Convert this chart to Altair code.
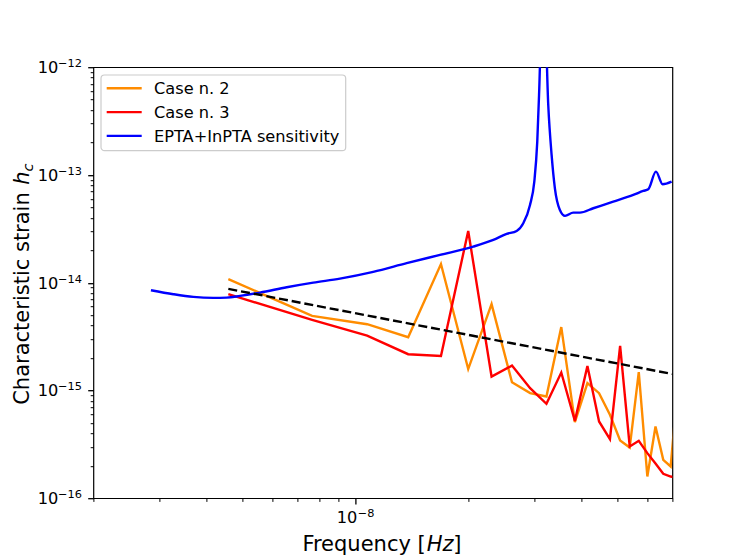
import altair as alt
import pandas as pd

# ---------------- data ----------------
freq_bins = [4.58e-9, 7.66e-9, 1.074e-8, 1.382e-8, 1.690e-8, 1.998e-8, 2.306e-8,
             2.614e-8, 2.922e-8, 3.230e-8, 3.538e-8, 3.846e-8, 4.154e-8, 4.462e-8,
             4.770e-8, 5.078e-8, 5.386e-8, 5.694e-8, 6.002e-8, 6.310e-8, 6.618e-8,
             6.926e-8, 7.234e-8]
case2_hc = [1.08e-14, 4.92e-15, 4.12e-15, 3.12e-15, 1.49e-14, 1.58e-15, 6.32e-15,
            1.19e-15, 9.44e-16, 8.78e-16, 3.87e-15, 5.08e-16, 1.17e-15, 9.44e-16,
            5.94e-16, 3.43e-16, 2.95e-16, 1.48e-15, 1.59e-16, 4.63e-16, 2.27e-16,
            1.97e-16, 1.10e-15]
case3_hc = [7.82e-15, 4.52e-15, 3.23e-15, 2.17e-15, 2.09e-15, 3.02e-14, 1.345e-15,
            1.70e-15, 1.05e-15, 7.51e-16, 1.466e-15, 5.22e-16, 1.69e-15, 5.15e-16,
            3.53e-16, 2.59e-15, 3.02e-16, 3.41e-16, 2.62e-16, 2.10e-16, 1.684e-16,
            1.589e-16, 1.55e-16]

sens_freq = [2.848e-9, 3.267e-9, 3.694e-9, 4.175e-9, 4.535e-9, 4.92e-9, 5.56e-9,
             6.556e-9, 7.717e-9, 9.09e-9, 1.115e-8, 1.369e-8, 1.68e-8, 2.061e-8,
             2.331e-8, 2.53e-8, 2.69e-8, 2.802e-8, 2.92e-8, 2.998e-8, 3.053e-8,
             3.091e-8, 3.167e-8, 3.266e-8, 3.334e-8, 3.402e-8, 3.508e-8, 3.62e-8,
             3.807e-8, 3.967e-8, 4.306e-8, 4.868e-8, 5.505e-8, 5.853e-8, 6.035e-8,
             6.327e-8, 6.592e-8, 6.966e-8]
sens_hc = [8.52e-15, 7.82e-15, 7.38e-15, 7.23e-15, 7.27e-15, 7.54e-15, 8.09e-15,
           9.08e-15, 1.002e-14, 1.091e-14, 1.259e-14, 1.517e-14, 1.811e-14, 2.163e-14,
           2.495e-14, 2.836e-14, 3.023e-14, 3.565e-14, 5.27e-14, 8.67e-14, 2.037e-13,
           6.37e-13, 1.0e-11, 4.46e-13, 1.533e-13, 7.52e-14, 4.73e-14, 4.17e-14,
           4.47e-14, 4.47e-14, 4.91e-14, 5.65e-14, 6.52e-14, 7.10e-14, 7.37e-14,
           1.073e-13, 8.20e-14, 8.67e-14]

powerlaw_freq = [4.58e-9, 7.234e-8]
powerlaw_hc = [8.76e-15, 1.39e-15]

series_names = ["Case n. 2", "Case n. 3", "EPTA+InPTA sensitivity"]
series_colors = ["#ff8c00", "#ff0000", "#0000ff"]

x_domain = [2e-9, 7e-8]
y_domain = [1e-16, 1e-12]
x_major = [1e-8]
x_major_exp = ["−8"]
y_major = [1e-16, 1e-15, 1e-14, 1e-13, 1e-12]
y_major_exp = ["−16", "−15", "−14", "−13", "−12"]
tick_base = "10"
x_ticks = [2e-9, 3e-9, 4e-9, 5e-9, 6e-9, 7e-9, 8e-9, 9e-9, 1e-8,
           2e-8, 3e-8, 4e-8, 5e-8, 6e-8, 7e-8]
y_ticks = [m * 10.0 ** e for e in (-16, -15, -14, -13) for m in range(1, 10)] + [1e-12]

x_title = ["Frequency [", "Hz", "]"]
y_title = ["Characteristic strain ", "h", "c"]

# ---------------- layout ----------------
W, H = 579, 431
FONT = "DejaVu Sans"
FS_TICK = 16.2
FS_SUP = 11.34
FS_LAB = 21.0
LW = 2.4


def make_axis(ticks, majors):
    test = "indexof([" + ",".join(repr(v) for v in majors) + "], datum.value) >= 0"
    return alt.Axis(
        values=ticks, labels=False, title=None,
        grid=False, domain=False,
        tickColor="black",
        tickSize={"condition": {"test": test, "value": 5.7}, "value": 3.2},
        tickWidth={"condition": {"test": test, "value": 1.3}, "value": 1.0},
    )


xs = alt.Scale(type="log", domain=x_domain, nice=False, zero=False)
ys = alt.Scale(type="log", domain=y_domain, nice=False, zero=False)
xax = make_axis(x_ticks, x_major)
yax = make_axis(y_ticks, y_major)

df2 = pd.DataFrame({"f": freq_bins, "h": case2_hc})
df3 = pd.DataFrame({"f": freq_bins, "h": case3_hc})
dfs = pd.DataFrame({"f": sens_freq, "h": sens_hc})
dfp = pd.DataFrame({"f": powerlaw_freq, "h": powerlaw_hc})


def line(df, color, interp="linear", dash=None):
    kw = dict(clip=True, strokeWidth=LW, color=color, interpolate=interp)
    if dash:
        kw["strokeDash"] = dash
    return alt.Chart(df).mark_line(**kw).encode(
        x=alt.X("f:Q", scale=xs, axis=xax),
        y=alt.Y("h:Q", scale=ys, axis=yax),
    )


layers = [
    line(df2, series_colors[0]),
    line(df3, series_colors[1]),
    line(dfs, series_colors[2], interp="monotone"),
    line(dfp, "black", dash=[9, 3.9]),
]

# ---- tick labels "10" + superscript exponent, placed through the scales ----
xl = pd.DataFrame({"v": x_major, "base": [tick_base] * len(x_major), "exp": x_major_exp})
yl = pd.DataFrame({"v": y_major, "base": [tick_base] * len(y_major), "exp": y_major_exp})
txt_kw = dict(font=FONT, color="black", baseline="alphabetic")
layers += [
    alt.Chart(xl).mark_text(align="right", dx=1.9, fontSize=FS_TICK, **txt_kw).encode(
        x=alt.X("v:Q", scale=xs), y=alt.value(455.5), text="base:N"),
    alt.Chart(xl).mark_text(align="left", dx=2.3, fontSize=FS_SUP, **txt_kw).encode(
        x=alt.X("v:Q", scale=xs), y=alt.value(449.4), text="exp:N"),
    alt.Chart(yl).mark_text(align="right", dx=-35.0, dy=5.9, fontSize=FS_TICK, **txt_kw).encode(
        y=alt.Y("v:Q", scale=ys), x=alt.value(0), text="base:N"),
    alt.Chart(yl).mark_text(align="right", dx=-11.4, dy=-0.2, fontSize=FS_SUP, **txt_kw).encode(
        y=alt.Y("v:Q", scale=ys), x=alt.value(0), text="exp:N"),
]

one = pd.DataFrame({"a": [0]})

# legend box
layers.append(
    alt.Chart(one).mark_rect(cornerRadius=3.5, fill="white", fillOpacity=0.8,
                             stroke="#cccccc", strokeWidth=1.2).encode(
        x=alt.value(7.6), x2=alt.value(252.3), y=alt.value(7.8), y2=alt.value(83.5))
)
for i, (name, col) in enumerate(zip(series_names, series_colors)):
    yy = 21.1 + i * 23.8
    layers.append(alt.Chart(one).mark_rule(color=col, strokeWidth=LW).encode(
        x=alt.value(13.3), x2=alt.value(48.3), y=alt.value(yy)))
    layers.append(alt.Chart(one).mark_text(text=name, align="left", baseline="middle",
                                           font=FONT, fontSize=FS_TICK, color="black").encode(
        x=alt.value(60.6), y=alt.value(yy + 0.8)))

# x title: "Frequency [" + italic "Hz" + "]"
xt_y = 483.3
for txt, xx, style in zip(x_title, [209.0, 333.3, 359.8], ["normal", "italic", "normal"]):
    layers.append(alt.Chart(one).mark_text(text=txt, align="left", baseline="alphabetic",
                                           font=FONT, fontSize=FS_LAB, fontStyle=style,
                                           color="black").encode(
        x=alt.value(xx), y=alt.value(xt_y)))

# y title: "Characteristic strain " + italic h + italic subscript c
yt_x = -64.4
for txt, yy, dx, fs, style in zip(y_title, [337.6, 117.6, 104.2], [0, 0, 4.0],
                                  [FS_LAB, FS_LAB, FS_LAB * 0.7],
                                  ["normal", "italic", "italic"]):
    layers.append(alt.Chart(one).mark_text(text=txt, align="left", baseline="alphabetic",
                                           angle=270, font=FONT, fontSize=fs, fontStyle=style,
                                           color="black").encode(
        x=alt.value(yt_x + dx), y=alt.value(yy)))

chart = alt.layer(*layers).properties(
    width=W, height=H,
    autosize=alt.AutoSizeParams(type="none"),
    padding={"left": 85.4, "top": 59.2, "right": 66.6, "bottom": 60.8},
    background="white",
).configure_view(stroke="black", strokeWidth=1.2)

chart.save("out.html", embed_options={"renderer": "svg", "actions": False})
